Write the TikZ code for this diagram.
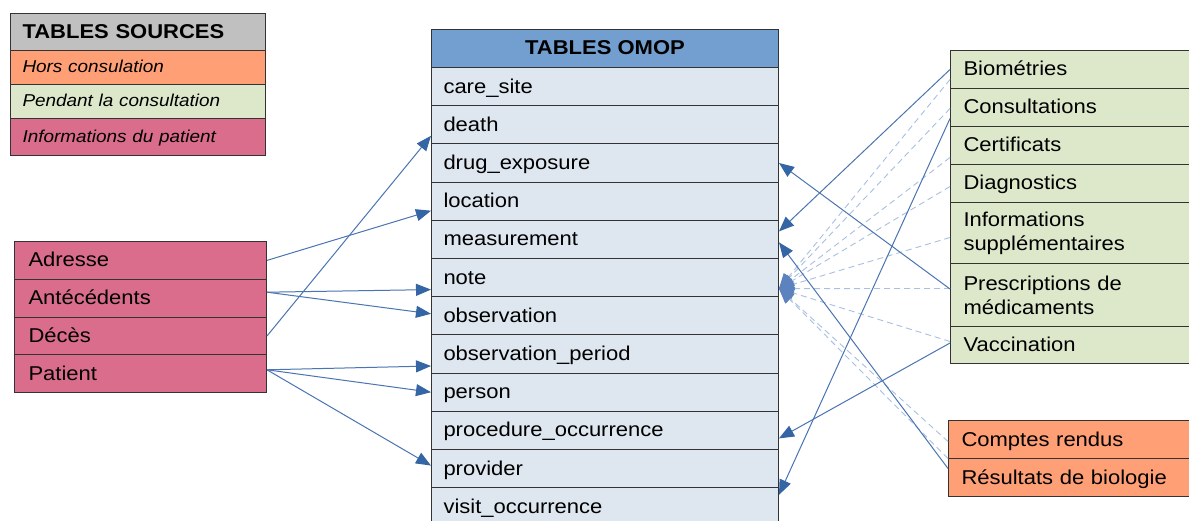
\documentclass[tikz,border=0pt]{standalone}
\usepackage{fontspec}
\setmainfont[FakeStretch=1.1]{Liberation Sans}
\usetikzlibrary{arrows.meta}
\definecolor{omopblue}{HTML}{729FCF}
\definecolor{omoprow}{HTML}{DEE6EF}
\definecolor{lgray}{HTML}{C0C0C0}
\definecolor{orangeb}{HTML}{FF9F76}
\definecolor{greenb}{HTML}{DDE8CB}
\definecolor{pinkb}{HTML}{DA6C8C}
\definecolor{bordc}{HTML}{333333}
\definecolor{arrc}{HTML}{4A74B2}
\definecolor{headc}{HTML}{3465A4}
\definecolor{dheadc}{HTML}{5D83BE}
\definecolor{dashc}{HTML}{A8C0E2}
\tikzset{
  cell/.style={draw=bordc, line width=1pt, anchor=north west, inner ysep=0pt,
    align=left, font=\fontsize{20pt}{24pt}\selectfont},
  one/.style={text height=16pt, text depth=3pt},
  omoprowst/.style={cell, one, fill=omoprow, minimum height=38.2pt, text width=323pt, inner xsep=12pt},
  leftst/.style={cell, one, fill=pinkb, minimum height=37.8pt, text width=224pt, inner xsep=14pt},
  greenst/.style={cell, fill=greenb, text width=226pt, inner xsep=13pt},
  orangest/.style={cell, one, fill=orangeb, minimum height=38pt, text width=226pt, inner xsep=13pt},
  legst/.style={cell, one, minimum height=34pt, text width=231pt, inner xsep=12pt},
  legit/.style={legst, text height=13.5pt, text depth=3pt, font=\fontsize{17.2pt}{20pt}\selectfont\itshape},
  arr/.style={draw=arrc, line width=1pt, -{Triangle[length=15pt,width=12pt,color=headc]}},
  darr/.style={draw=dashc, line width=0.9pt, dash pattern=on 6pt off 4pt,
    -{Triangle[length=15pt,width=12pt,color=dheadc]}}
}
\begin{document}
\begin{tikzpicture}[x=1pt,y=-1pt]
\clip (0,0) rectangle (1189,521);
\fill[white] (0,0) rectangle (1189,521);
% legend
\node[legst, fill=lgray, minimum height=37pt, font=\fontsize{20pt}{24pt}\selectfont\bfseries] (legendhead) at (10,13) {TABLES SOURCES};
\node[legit, fill=orangeb] (lhors) at (10,50) {Hors consulation};
\node[legit, fill=greenb] (lpendant) at (10,84) {Pendant la consultation};
\node[legit, fill=pinkb, minimum height=37pt] (linfo) at (10,118) {Informations du patient};
% OMOP table
\node[cell, one, fill=omopblue, minimum height=38pt, minimum width=347pt, align=center, inner xsep=0pt, font=\fontsize{20pt}{24pt}\selectfont\bfseries] (omophead) at (431,29) {TABLES OMOP};
\node[omoprowst] (caresite) at (431,67) {care\_site};
\node[omoprowst] (death) at (431,105.2) {death};
\node[omoprowst] (drug) at (431,143.4) {drug\_exposure};
\node[omoprowst] (location) at (431,181.6) {location};
\node[omoprowst] (measurement) at (431,219.8) {measurement};
\node[omoprowst] (note) at (431,258) {note};
\node[omoprowst] (observation) at (431,296.2) {observation};
\node[omoprowst] (obsperiod) at (431,334.4) {observation\_period};
\node[omoprowst] (person) at (431,372.6) {person};
\node[omoprowst] (procedure) at (431,410.8) {procedure\_occurrence};
\node[omoprowst] (provider) at (431,449) {provider};
\node[omoprowst] (visit) at (431,487.2) {visit\_occurrence};
% left source box
\node[leftst] (adresse) at (14,241) {Adresse};
\node[leftst] (antecedents) at (14,278.8) {Antécédents};
\node[leftst] (deces) at (14,316.6) {Décès};
\node[leftst] (patient) at (14,354.4) {Patient};
% right green box
\node[greenst, one, minimum height=38pt] (biometries) at (950,50) {Biométries};
\node[greenst, one, minimum height=38pt] (consultations) at (950,88) {Consultations};
\node[greenst, one, minimum height=38pt] (certificats) at (950,126) {Certificats};
\node[greenst, one, minimum height=38pt] (diagnostics) at (950,164) {Diagnostics};
\node[greenst, minimum height=61pt] (infosupp) at (950,202) {Informations\\supplémentaires};
\node[greenst, minimum height=63pt] (prescriptions) at (950,263) {Prescriptions de\\médicaments};
\node[greenst, one, minimum height=37pt] (vaccination) at (950,326) {Vaccination};
% right orange box
\node[orangest] (comptes) at (948,420) {Comptes rendus};
\node[orangest] (resultats) at (948,458) {Résultats de biologie};
% dashed connectors to note
\draw[darr] ([yshift=-10pt]biometries.west) -- ([yshift=-11pt]note.east);
\draw[darr] ([yshift=-1pt]consultations.west) -- ([yshift=-11pt]note.east);
\draw[darr] ([yshift=-12pt]certificats.west) -- ([yshift=-11pt]note.east);
\draw[darr] ([yshift=-3pt]diagnostics.west) -- ([yshift=-11pt]note.east);
\draw[darr] ([yshift=-4.5pt]infosupp.west) -- ([yshift=-11pt]note.east);
\draw[darr] ([yshift=6.5pt]prescriptions.west) -- ([yshift=-11pt]note.east);
\draw[darr] ([yshift=3.5pt]vaccination.west) -- ([yshift=-11pt]note.east);
\draw[darr] ([yshift=-2pt]comptes.west) -- ([yshift=-11pt]note.east);
\draw[darr] ([yshift=19pt]resultats.west) -- ([yshift=-11pt]note.east);
% left connectors
\draw[arr] (adresse.east) -- ([yshift=-9.5pt]location.west);
\draw[arr] (deces.east) -- ([yshift=-11pt]death.west);
\draw[arr] ([yshift=6pt]antecedents.east) -- ([yshift=-12pt]note.west);
\draw[arr] ([yshift=6pt]antecedents.east) -- ([yshift=2pt]observation.west);
\draw[arr] ([yshift=4pt]patient.east) -- ([yshift=-12pt]obsperiod.west);
\draw[arr] ([yshift=4pt]patient.east) -- (person.west);
\draw[arr] ([yshift=4pt]patient.east) -- ([yshift=3pt]provider.west);
% right connectors
\draw[arr] (biometries.west) -- ([yshift=8pt]measurement.east);
\draw[arr] ([yshift=-11pt]consultations.west) -- ([yshift=12pt]visit.east);
\draw[arr] ([yshift=6pt]prescriptions.west) -- (drug.east);
\draw[arr] ([yshift=9pt]resultats.west) -- ([yshift=-3pt]measurement.east);
\draw[arr] ([yshift=2pt]vaccination.west) -- ([yshift=-8pt]procedure.east);
\end{tikzpicture}
\end{document}
